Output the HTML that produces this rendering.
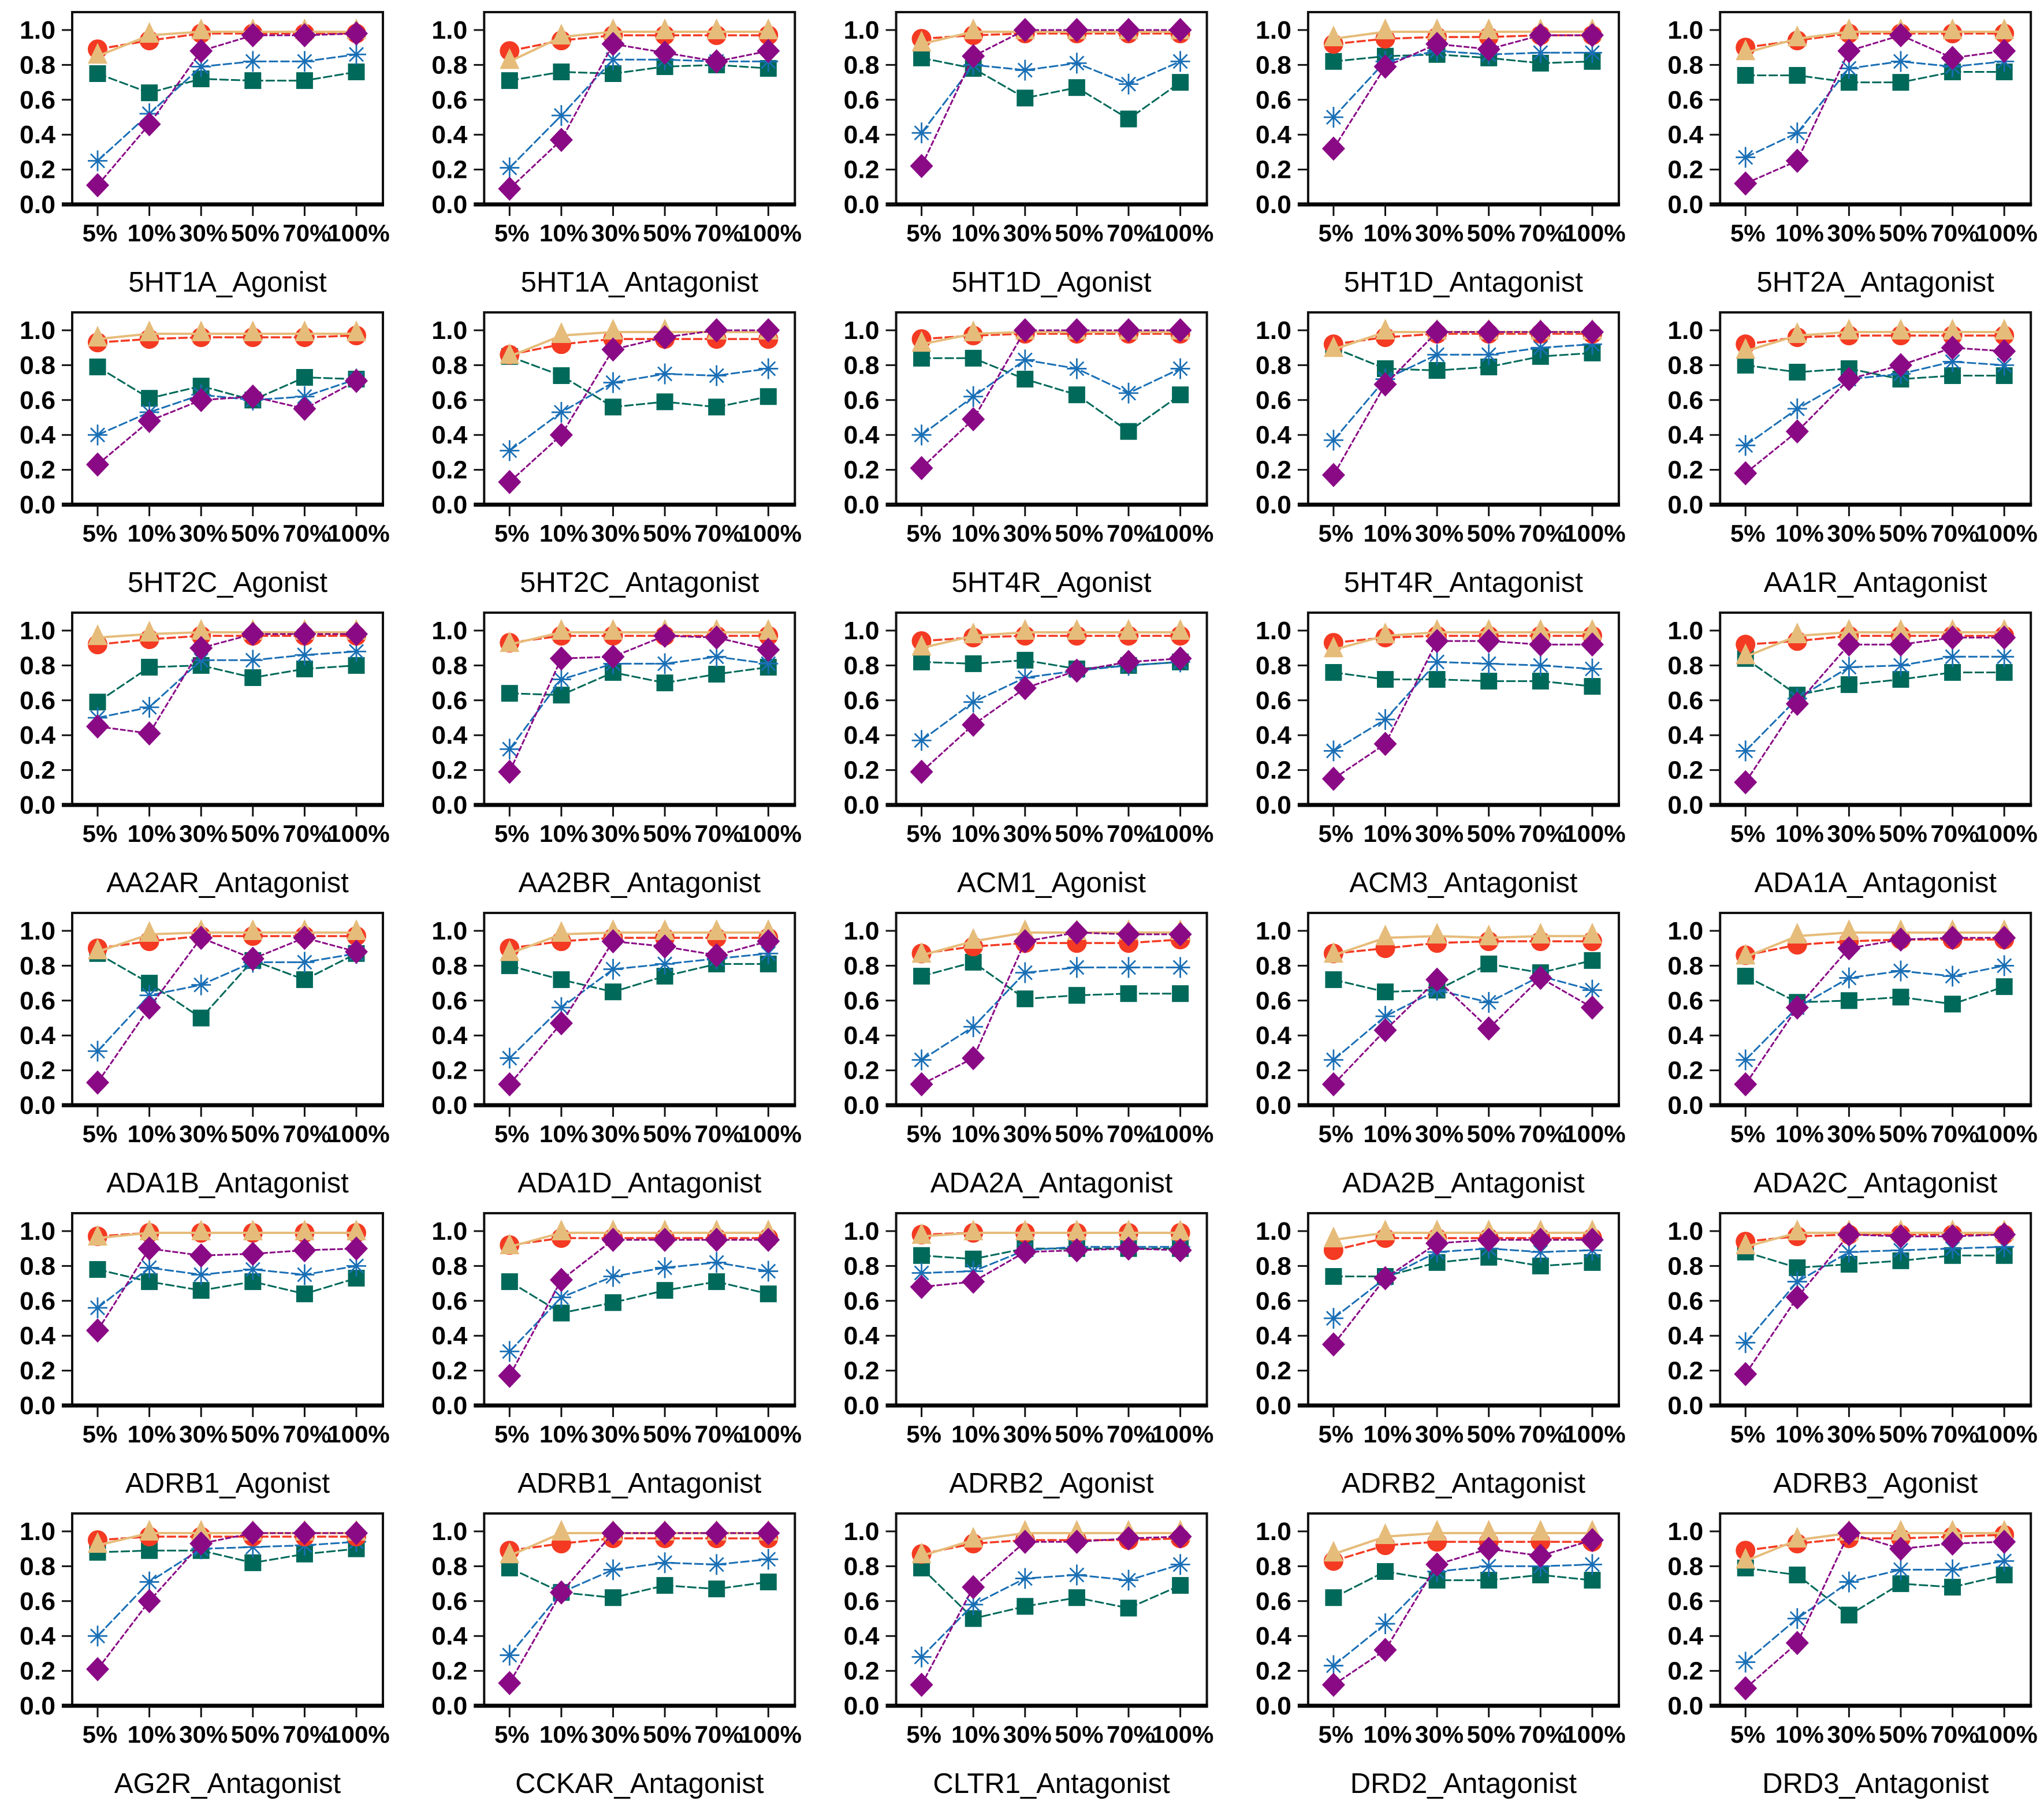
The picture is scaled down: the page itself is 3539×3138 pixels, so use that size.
<!DOCTYPE html>
<html><head><meta charset="utf-8"><title>Charts</title>
<style>html,body{margin:0;padding:0;background:#fff}svg{display:block}</style></head>
<body>
<svg id="chart" width="3539" height="3138" viewBox="0 0 3539 3138" xmlns="http://www.w3.org/2000/svg" font-family="Liberation Sans, Arial, sans-serif"></svg>
<script>
const categories = ["5%","10%","30%","50%","70%","100%"];
const yTicks = [0,0.2,0.4,0.6,0.8,1.0];
const yTickLabels = ["0.0","0.2","0.4","0.6","0.8","1.0"];
const chartNames = ["5HT1A_Agonist","5HT1A_Antagonist","5HT1D_Agonist","5HT1D_Antagonist","5HT2A_Antagonist",
"5HT2C_Agonist","5HT2C_Antagonist","5HT4R_Agonist","5HT4R_Antagonist","AA1R_Antagonist",
"AA2AR_Antagonist","AA2BR_Antagonist","ACM1_Agonist","ACM3_Antagonist","ADA1A_Antagonist",
"ADA1B_Antagonist","ADA1D_Antagonist","ADA2A_Antagonist","ADA2B_Antagonist","ADA2C_Antagonist",
"ADRB1_Agonist","ADRB1_Antagonist","ADRB2_Agonist","ADRB2_Antagonist","ADRB3_Agonist",
"AG2R_Antagonist","CCKAR_Antagonist","CLTR1_Antagonist","DRD2_Antagonist","DRD3_Antagonist"];
const redValues = [
[.89,.94,.98,.98,.98,.98],[.88,.94,.97,.97,.97,.97],[.95,.97,.98,.98,.98,.98],[.92,.95,.96,.96,.97,.97],[.90,.94,.98,.98,.98,.98],
[.93,.95,.96,.96,.96,.97],[.86,.92,.95,.95,.95,.95],[.95,.97,.98,.98,.98,.98],[.92,.96,.98,.98,.98,.98],[.92,.96,.97,.97,.97,.97],
[.92,.95,.97,.97,.97,.97],[.93,.97,.97,.97,.97,.97],[.94,.96,.97,.97,.97,.97],[.93,.96,.97,.97,.97,.97],[.92,.94,.97,.97,.97,.97],
[.90,.94,.97,.97,.97,.97],[.90,.94,.96,.96,.96,.96],[.87,.91,.93,.93,.93,.95],[.87,.90,.93,.94,.94,.94],[.86,.92,.94,.95,.95,.95],
[.97,.99,.99,.99,.99,.99],[.92,.96,.96,.96,.96,.96],[.98,.99,.99,.99,.99,.99],[.89,.96,.96,.96,.96,.96],[.94,.97,.98,.98,.98,.98],
[.95,.97,.97,.97,.97,.97],[.89,.93,.96,.96,.96,.96],[.87,.93,.95,.95,.95,.96],[.83,.92,.94,.94,.94,.94],[.89,.93,.96,.96,.97,.98]];
const tanValues = [
[.85,.97,.99,.99,.99,.99],[.82,.96,.99,.99,.99,.99],[.92,.99,.99,.99,.99,.99],[.95,.99,.99,.99,.99,.99],[.87,.95,.99,.99,.99,.99],
[.95,.98,.98,.98,.98,.98],[.85,.97,.99,.99,.99,.99],[.92,.98,.99,.99,.99,.99],[.89,.99,.99,.99,.99,.99],[.88,.97,.99,.99,.99,.99],
[.96,.98,.99,.99,.99,.99],[.92,.99,.99,.99,.99,.99],[.90,.97,.99,.99,.99,.99],[.89,.97,.99,.99,.99,.99],[.85,.97,.99,.99,.99,.99],
[.88,.98,.99,.99,.99,.99],[.87,.98,.99,.99,.99,.99],[.86,.94,.99,.99,.99,.99],[.86,.96,.97,.96,.97,.97],[.85,.97,.99,.99,.99,.99],
[.96,.99,.99,.99,.99,.99],[.91,.99,.99,.99,.99,.99],[.97,.99,.99,.99,.99,.99],[.95,.99,.99,.99,.99,.99],[.91,.99,.99,.99,.99,.99],
[.92,.99,.99,.99,.99,.99],[.86,.99,.99,.99,.99,.99],[.86,.95,.99,.99,.99,.99],[.87,.97,.99,.99,.99,.99],[.83,.95,.99,.99,.99,.99]];
const blueValues = [
[.25,.52,.79,.82,.82,.86],[.21,.51,.83,.83,.82,.82],[.41,.80,.77,.81,.69,.82],[.50,.82,.88,.86,.87,.87],[.27,.41,.78,.82,.79,.82],
[.40,.53,.63,.60,.62,.72],[.31,.53,.70,.75,.74,.78],[.40,.62,.83,.78,.64,.78],[.37,.72,.86,.86,.90,.92],[.34,.55,.72,.75,.82,.80],
[.50,.56,.83,.83,.86,.88],[.32,.72,.81,.81,.85,.81],[.37,.59,.73,.77,.80,.82],[.31,.49,.82,.81,.80,.78],[.31,.61,.79,.80,.85,.85],
[.31,.63,.69,.82,.82,.87],[.27,.56,.78,.81,.84,.87],[.26,.45,.76,.79,.79,.79],[.26,.51,.66,.59,.74,.66],[.26,.56,.73,.77,.74,.80],
[.56,.79,.75,.78,.75,.80],[.31,.62,.74,.79,.82,.77],[.76,.77,.89,.91,.91,.91],[.50,.73,.88,.90,.88,.89],[.36,.71,.88,.89,.90,.91],
[.40,.71,.90,.91,.92,.94],[.29,.65,.78,.82,.81,.84],[.28,.58,.73,.75,.72,.81],[.23,.47,.77,.80,.80,.81],[.25,.50,.71,.78,.78,.83]];
const tealValues = [
[.75,.64,.72,.71,.71,.76],[.71,.76,.75,.79,.80,.78],[.84,.78,.61,.67,.49,.70],[.82,.85,.86,.84,.81,.82],[.74,.74,.70,.70,.76,.76],
[.79,.61,.68,.60,.73,.72],[.85,.74,.56,.59,.56,.62],[.84,.84,.72,.63,.42,.63],[.90,.78,.77,.79,.85,.87],[.80,.76,.78,.72,.74,.74],
[.59,.79,.80,.73,.78,.80],[.64,.63,.76,.70,.75,.79],[.82,.81,.83,.78,.80,.82],[.76,.72,.72,.71,.71,.68],[.84,.63,.69,.72,.76,.76],
[.87,.70,.50,.83,.72,.87],[.80,.72,.65,.74,.81,.81],[.74,.82,.61,.63,.64,.64],[.72,.65,.66,.81,.76,.83],[.74,.59,.60,.62,.58,.68],
[.78,.71,.66,.71,.64,.73],[.71,.53,.59,.66,.71,.64],[.86,.84,.90,.90,.90,.90],[.74,.74,.82,.85,.80,.82],[.88,.79,.81,.83,.86,.86],
[.88,.89,.89,.82,.87,.90],[.79,.65,.62,.69,.67,.71],[.79,.50,.57,.62,.56,.69],[.62,.77,.72,.72,.75,.72],[.79,.75,.52,.70,.68,.75]];
const purpleValues = [
[.11,.46,.88,.97,.97,.98],[.09,.37,.92,.87,.82,.88],[.22,.85,1.0,1.0,1.0,1.0],[.32,.79,.92,.89,.97,.97],[.12,.25,.88,.97,.84,.88],
[.23,.48,.60,.62,.55,.71],[.13,.40,.89,.96,1.0,1.0],[.21,.49,1.0,1.0,1.0,1.0],[.17,.69,.99,.99,.99,.99],[.18,.42,.72,.80,.90,.88],
[.45,.41,.90,.98,.98,.98],[.19,.84,.85,.97,.96,.89],[.19,.46,.67,.77,.82,.84],[.15,.35,.94,.94,.92,.92],[.13,.58,.92,.92,.96,.96],
[.13,.56,.96,.84,.96,.88],[.12,.47,.94,.91,.86,.94],[.12,.27,.94,.99,.98,.98],[.12,.43,.72,.44,.73,.56],[.12,.56,.90,.95,.96,.96],
[.43,.90,.86,.87,.89,.90],[.17,.72,.95,.95,.95,.95],[.68,.71,.88,.89,.90,.89],[.35,.73,.93,.95,.95,.95],[.18,.62,.98,.97,.97,.98],
[.21,.60,.93,.99,.99,.99],[.13,.65,.99,.99,.99,.99],[.12,.68,.94,.94,.96,.97],[.12,.32,.81,.90,.86,.95],[.10,.36,.99,.90,.93,.94]];

const NS="http://www.w3.org/2000/svg";
const svg=document.getElementById('chart');
function mk(tag,attrs,parent){const e=document.createElementNS(NS,tag);for(const k in attrs)e.setAttribute(k,attrs[k]);(parent||svg).appendChild(e);return e;}
const COLW=713.3, ROWH=520;
const BOX_L=125, BOX_R=663, BOX_T=21, AXIS_Y=354, Y1=52;
const X0=169, XSTEP=89.6;
function xs(i){return X0+i*XSTEP;}
function ys(v){return AXIS_Y-v*(AXIS_Y-Y1);}

const series=[
 {key:'teal',vals:tealValues,color:'#00695a',dash:'16 4',w:3,marker:'square'},
 {key:'blue',vals:blueValues,color:'#1a6fb5',dash:'16 4',w:3,marker:'star'},
 {key:'red',vals:redValues,color:'#f43a22',dash:'16 4',w:3.5,marker:'circle'},
 {key:'tan',vals:tanValues,color:'#e6bc7a',dash:'',w:4,marker:'triangle'},
 {key:'purple',vals:purpleValues,color:'#8a0a86',dash:'10 3',w:3,marker:'diamond'}
];

function marker(g,type,x,y,color){
  let e;
  if(type==='circle'){e=mk('circle',{cx:x,cy:y,r:17,fill:color},g);}
  else if(type==='triangle'){e=mk('polygon',{points:`${x},${y-23} ${x-17},${y+13} ${x+17},${y+13}`,fill:color},g);}
  else if(type==='square'){e=mk('rect',{x:x-14.5,y:y-14.5,width:29,height:29,fill:color},g);}
  else if(type==='diamond'){e=mk('polygon',{points:`${x},${y-21} ${x+20},${y} ${x},${y+21} ${x-20},${y}`,fill:color},g);}
  else {e=mk('path',{d:`M${x-17},${y}H${x+17}M${x},${y-18}V${y+18}M${x-12},${y-12}L${x+12},${y+12}M${x+12},${y-12}L${x-12},${y+12}`,stroke:color,'stroke-width':2.8,fill:'none'},g);}
  return e;
}

chartNames.forEach((name,ci)=>{
  const col=ci%5,row=Math.floor(ci/5);
  const g=mk('g',{transform:`translate(${(col*COLW).toFixed(1)},${row*ROWH})`});
  
  
  const box=mk('rect',{x:BOX_L,y:BOX_T,width:BOX_R-BOX_L,height:AXIS_Y-BOX_T,fill:'#fff',stroke:'#111','stroke-width':4},g);
  
  
  const ax=mk('line',{x1:107,y1:AXIS_Y,x2:BOX_R+2,y2:AXIS_Y,stroke:'#000','stroke-width':7},g);
  
  
  yTicks.forEach((v,i)=>{
    mk('line',{x1:107,y1:ys(v),x2:BOX_L,y2:ys(v),stroke:'#111','stroke-width':3},g);
    const t=mk('text',{x:96,y:ys(v)+15,'text-anchor':'end','font-size':44,'font-weight':'bold',fill:'#000',textLength:62,lengthAdjust:'spacingAndGlyphs'},g);
    t.textContent=yTickLabels[i];
    
    
  });
  categories.forEach((c,i)=>{
    mk('line',{x1:xs(i),y1:AXIS_Y,x2:xs(i),y2:AXIS_Y+20,stroke:'#111','stroke-width':3},g);
    const t=mk('text',{x:xs(i)+4,y:418,'text-anchor':'middle','font-size':42,'font-weight':'bold',fill:'#000'},g);
    t.textContent=c;
    
    
  });
  series.forEach(s=>{
    const vals=s.vals[ci];
    const sg=mk('g',{},g);
    
    
    const pts=vals.map((v,i)=>xs(i).toFixed(1)+','+ys(v).toFixed(1)).join(' ');
    const pl=mk('polyline',{points:pts,fill:'none',stroke:s.color,'stroke-width':s.w,'stroke-dasharray':s.dash},sg);
    
    
    vals.forEach((v,i)=>{
      const m=marker(sg,s.marker,xs(i),ys(v),s.color);
      
      
    });
  });
  const title=mk('text',{x:394,y:505,'text-anchor':'middle','font-size':49,fill:'#000'},g);
  title.textContent=name;
  
  
});
</script>
</body></html>
